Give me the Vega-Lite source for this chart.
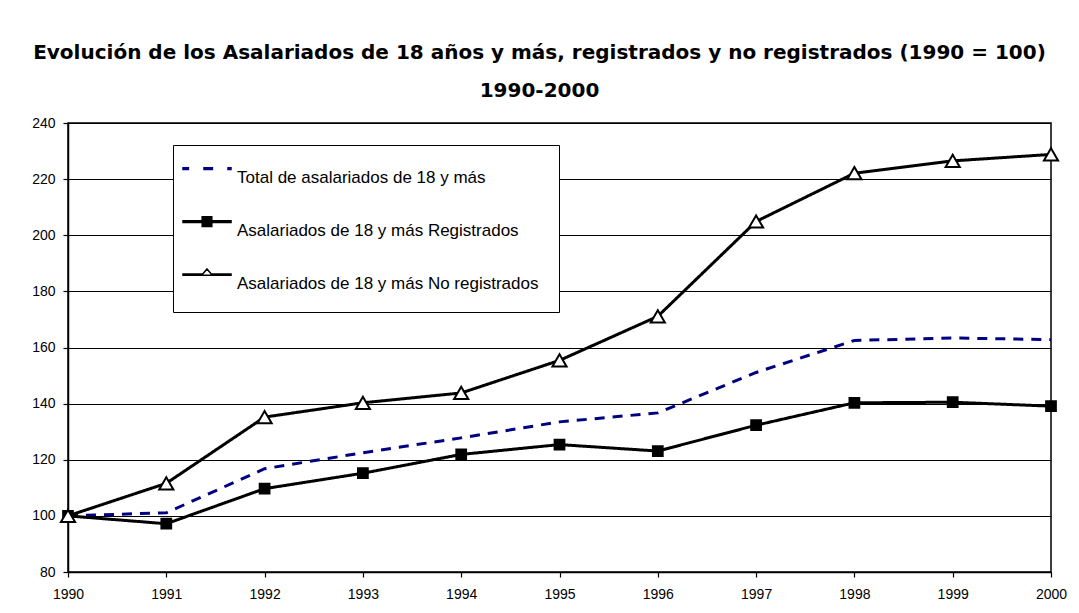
{
  "$schema": "https://vega.github.io/schema/vega-lite/v6.json",
  "width": 983,
  "height": 449,
  "autosize": {"type": "none"},
  "padding": {"left": 68, "top": 123, "right": 28, "bottom": 41},
  "background": "white",
  "config": {
    "view": {"stroke": "#000", "strokeWidth": 1.5},
    "axis": {"labelFont": "Liberation Sans", "labelFontSize": 14, "labelColor": "#000", "domainColor": "#000", "tickColor": "#000", "gridColor": "#000", "gridOpacity": 1, "gridWidth": 1.2, "domainWidth": 1.5, "tickWidth": 1.2}
  },
  "title": {
    "text": ["Evolución de los Asalariados de 18 años y más, registrados y no registrados (1990 = 100)", "1990-2000"],
    "font": "DejaVu Sans",
    "fontSize": 20,
    "fontWeight": "bold",
    "color": "#000",
    "lineHeight": 38,
    "anchor": "middle",
    "dx": -20,
    "offset": 15
  },
  "data": {
    "values": [
      {"year": 1990, "series": "Total de asalariados de 18 y más", "value": 100},
      {"year": 1991, "series": "Total de asalariados de 18 y más", "value": 101.1},
      {"year": 1992, "series": "Total de asalariados de 18 y más", "value": 116.8},
      {"year": 1993, "series": "Total de asalariados de 18 y más", "value": 122.5},
      {"year": 1994, "series": "Total de asalariados de 18 y más", "value": 127.8},
      {"year": 1995, "series": "Total de asalariados de 18 y más", "value": 133.5},
      {"year": 1996, "series": "Total de asalariados de 18 y más", "value": 136.7},
      {"year": 1997, "series": "Total de asalariados de 18 y más", "value": 151.1},
      {"year": 1998, "series": "Total de asalariados de 18 y más", "value": 162.5},
      {"year": 1999, "series": "Total de asalariados de 18 y más", "value": 163.4},
      {"year": 2000, "series": "Total de asalariados de 18 y más", "value": 162.8},
      {"year": 1990, "series": "Asalariados de 18 y más Registrados", "value": 100},
      {"year": 1991, "series": "Asalariados de 18 y más Registrados", "value": 97.2},
      {"year": 1992, "series": "Asalariados de 18 y más Registrados", "value": 109.7},
      {"year": 1993, "series": "Asalariados de 18 y más Registrados", "value": 115.2},
      {"year": 1994, "series": "Asalariados de 18 y más Registrados", "value": 121.9},
      {"year": 1995, "series": "Asalariados de 18 y más Registrados", "value": 125.4},
      {"year": 1996, "series": "Asalariados de 18 y más Registrados", "value": 123.1},
      {"year": 1997, "series": "Asalariados de 18 y más Registrados", "value": 132.3},
      {"year": 1998, "series": "Asalariados de 18 y más Registrados", "value": 140.3},
      {"year": 1999, "series": "Asalariados de 18 y más Registrados", "value": 140.5},
      {"year": 2000, "series": "Asalariados de 18 y más Registrados", "value": 139.1},
      {"year": 1990, "series": "Asalariados de 18 y más No registrados", "value": 100},
      {"year": 1991, "series": "Asalariados de 18 y más No registrados", "value": 111.6},
      {"year": 1992, "series": "Asalariados de 18 y más No registrados", "value": 135.2},
      {"year": 1993, "series": "Asalariados de 18 y más No registrados", "value": 140.3},
      {"year": 1994, "series": "Asalariados de 18 y más No registrados", "value": 143.8},
      {"year": 1995, "series": "Asalariados de 18 y más No registrados", "value": 155.4},
      {"year": 1996, "series": "Asalariados de 18 y más No registrados", "value": 171.1},
      {"year": 1997, "series": "Asalariados de 18 y más No registrados", "value": 204.9},
      {"year": 1998, "series": "Asalariados de 18 y más No registrados", "value": 222.1},
      {"year": 1999, "series": "Asalariados de 18 y más No registrados", "value": 226.5},
      {"year": 2000, "series": "Asalariados de 18 y más No registrados", "value": 228.8}
    ]
  },
  "encoding": {
    "x": {
      "field": "year", "type": "quantitative",
      "scale": {"domain": [1990, 2000], "nice": false, "zero": false},
      "axis": {"title": null, "values": [1990,1991,1992,1993,1994,1995,1996,1997,1998,1999,2000], "format": "d", "grid": false, "tickSize": 5, "labelPadding": 10, "labelFlush": false}
    },
    "y": {
      "field": "value", "type": "quantitative",
      "scale": {"domain": [80, 240], "nice": false, "zero": false},
      "axis": {"title": null, "values": [80,100,120,140,160,180,200,220,240], "grid": true, "tickSize": 5, "labelPadding": 8}
    }
  },
  "layer": [
    {
      "mark": {"type": "line", "strokeWidth": 3},
      "encoding": {
        "color": {"field": "series", "type": "nominal", "legend": null,
          "scale": {"domain": ["Asalariados de 18 y más No registrados", "Asalariados de 18 y más Registrados", "Total de asalariados de 18 y más"], "range": ["#000000", "#000000", "#000080"]}},
        "strokeDash": {"field": "series", "type": "nominal", "legend": null,
          "scale": {"domain": ["Asalariados de 18 y más No registrados", "Asalariados de 18 y más Registrados", "Total de asalariados de 18 y más"], "range": [[1, 0], [1, 0], [10, 8]]}}
      }
    },
    {
      "transform": [{"filter": "datum.series !== 'Total de asalariados de 18 y más'"}],
      "mark": {"type": "point", "filled": true, "stroke": "#000", "strokeWidth": 2, "opacity": 1},
      "encoding": {
        "shape": {"condition": {"test": "datum.series === 'Asalariados de 18 y más No registrados'", "value": "triangle-up"}, "value": "square"},
        "fill": {"condition": {"test": "datum.series === 'Asalariados de 18 y más No registrados'", "value": "#ffffff"}, "value": "#000000"},
        "size": {"condition": {"test": "datum.series === 'Asalariados de 18 y más No registrados'", "value": 200}, "value": 95}
      }
    },
    {
      "transform": [{"filter": "datum.year < 0"}],
      "mark": {"type": "point", "filled": true, "strokeWidth": 1.5, "opacity": 1},
      "encoding": {
        "shape": {"field": "series", "type": "nominal",
          "scale": {"domain": ["Total de asalariados de 18 y más", "Asalariados de 18 y más Registrados", "Asalariados de 18 y más No registrados"],
            "range": [
              "M-2,-0.86H-1.55V-0.7H-2Z M-0.25,-0.86H0.45V-0.7H-0.25Z M1.75,-0.86H2V-0.7H1.75Z",
              "M-2,-0.86H2V-0.7H-2Z M-0.4,-1.18H0.4V-0.38H-0.4Z",
              "M-2,-0.83H-0.42V-0.72H-2Z M0.42,-0.83H2V-0.72H0.42Z M0,-1.25L0.45,-0.72H-0.45Z"
            ]},
          "legend": {
            "title": null,
            "orient": "none",
            "legendX": 105,
            "legendY": 22,
            "direction": "vertical",
            "fillColor": "#fff",
            "strokeColor": "#000",
            "padding": 20,
            "symbolSize": 576,
            "symbolOffset": 1,
            "labelOffset": 17,
            "rowPadding": 27,
            "labelFont": "Liberation Sans",
            "labelFontSize": 17,
            "labelColor": "#000",
            "labelLimit": 500
          }
        },
        "fill": {"field": "series", "type": "nominal",
          "scale": {"domain": ["Total de asalariados de 18 y más", "Asalariados de 18 y más Registrados", "Asalariados de 18 y más No registrados"], "range": ["#000080", "#000000", "#ffffff"]}},
        "stroke": {"field": "series", "type": "nominal",
          "scale": {"domain": ["Total de asalariados de 18 y más", "Asalariados de 18 y más Registrados", "Asalariados de 18 y más No registrados"], "range": ["#000080", "#000000", "#000000"]}}
      }
    }
  ]
}
